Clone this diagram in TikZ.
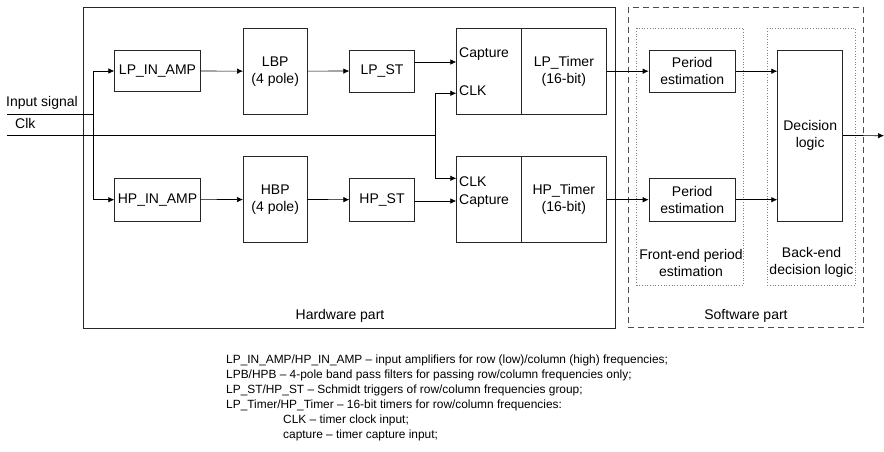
\documentclass[tikz,border=0pt]{standalone}
\usepackage{fontspec}
\setmainfont{Liberation Sans}
\usetikzlibrary{arrows.meta}
\begin{document}
\begin{tikzpicture}[x=1pt,y=-1pt,
  blk/.style={draw=black!85,line width=0.7pt,inner sep=0pt,align=center,font=\fontsize{14}{17}\selectfont},
  lbl/.style={inner sep=0pt,font=\fontsize{14}{17}\selectfont,align=center},
  note/.style={inner sep=0pt,anchor=west,font=\fontsize{11.9}{14}\selectfont},
  arr/.style={line width=0.7pt,-{Latex[length=6pt,width=5.5pt]}},
  ln/.style={line width=0.7pt}]
\useasboundingbox (0,0) rectangle (884,452);
% group frames
\draw[ln,black!85] (83,7) rectangle (615,328);
\draw[line width=0.9pt,black!70,dash pattern=on 6pt off 4pt] (628.3,7.3) rectangle (863.3,327.7);
\draw[line width=0.7pt,black!50,dotted] (636.7,28.3) rectangle (743.3,285);
\draw[line width=0.7pt,black!50,dotted] (767.3,28.3) rectangle (855,285);
\node[lbl] (hwl) at (340,316) {Hardware part};
\node[lbl] (swl) at (746,316) {Software part};
\node[lbl] (fel) at (691,262.5) {Front-end period\\estimation};
\node[lbl] (bel) at (811.5,262.5) {Back-end\\decision logic};
% blocks
\node[blk,minimum width=85.6pt,minimum height=41.7pt] (lpamp) at (157.5,71) {LP\_IN\_AMP};
\node[blk,minimum width=63.7pt,minimum height=85.7pt] (lbp) at (275.2,71.2) {LBP\\(4 pole)};
\node[blk,minimum width=64.6pt,minimum height=42pt] (lpst) at (382,71) {LP\_ST};
\node[blk,minimum width=64.3pt,minimum height=85.7pt] (lpcap) at (488.85,71.2) {};
\node[blk,minimum width=85.7pt,minimum height=85.7pt] (lptim) at (563.85,71.2) {LP\_Timer\\(16-bit)};
\node[lbl,anchor=west] (lpcapt) at (459,54) {Capture};
\node[lbl,anchor=west] (lpclkt) at (459,90.5) {CLK};
\node[blk,minimum width=63.7pt,minimum height=85.6pt] (hbp) at (275.2,199.5) {HBP\\(4 pole)};
\node[blk,minimum width=85.6pt,minimum height=42.7pt] (hpamp) at (157.5,199.7) {HP\_IN\_AMP};
\node[blk,minimum width=64.6pt,minimum height=42.7pt] (hpst) at (382,199.7) {HP\_ST};
\node[blk,minimum width=64.3pt,minimum height=85.6pt] (hpcap) at (488.85,199.5) {};
\node[blk,minimum width=85.7pt,minimum height=85.6pt] (hptim) at (563.85,199.5) {HP\_Timer\\(16-bit)};
\node[lbl,anchor=west] (hpclkt) at (459,182) {CLK};
\node[lbl,anchor=west] (hpcapt) at (459,201) {Capture};
\node[blk,minimum width=86.3pt,minimum height=42.3pt] (pe1) at (692.2,71.2) {Period\\estimation};
\node[blk,minimum width=86.3pt,minimum height=42.7pt] (pe2) at (692.2,199.7) {Period\\estimation};
\node[blk,minimum width=65pt,minimum height=171pt] (dec) at (810.2,135.5) {Decision\\logic};
% inputs
\node[lbl,anchor=west] (insig) at (6,102.5) {Input signal};
\node[lbl,anchor=west] (clkt) at (15,123.5) {Clk};
\coordinate (inL) at (7,114);
\coordinate (jin) at (93.3,114);
\coordinate (clkL) at (7,135.7);
\coordinate (jclk) at (435,135.7);
\coordinate (outR) at (884,135.7);
\draw[ln] (inL) -- (jin);
\draw[arr] (jin) |- (lpamp.west);
\draw[arr] (jin) |- (hpamp.west);
\draw[ln] (clkL) -- (jclk);
\draw[arr] (jclk) |- (lpcap.west |- 0,93.3);
\draw[arr] (jclk) |- (hpcap.west |- 0,178.3);
% chains
\draw[arr] (lpamp) -- (lbp);
\draw[arr] (lbp) -- (lpst);
\draw[arr] (lpst.east |- 0,62) -- (lpcap.west |- 0,62);
\draw[arr] (hpamp) -- (hbp);
\draw[arr] (hbp) -- (hpst);
\draw[arr] (hpst.east |- 0,201) -- (hpcap.west |- 0,201);
\draw[arr] (lptim.east) -- (pe1.west);
\draw[arr] (hptim.east |- pe2.west) -- (pe2.west);
\draw[arr] (pe1.east) -- (dec.west |- pe1.east);
\draw[arr] (pe2.east) -- (dec.west |- pe2.east);
\draw[arr] (dec.east) -- (outR);
% notes
\node[note] (n1) at (226,360) {LP\_IN\_AMP/HP\_IN\_AMP -- input amplifiers for row (low)/column (high) frequencies;};
\node[note] (n2) at (226,375.5) {LPB/HPB -- 4-pole band pass filters for passing row/column frequencies only;};
\node[note] (n3) at (226,390.5) {LP\_ST/HP\_ST -- Schmidt triggers of row/column frequencies group;};
\node[note] (n4) at (226,405) {LP\_Timer/HP\_Timer -- 16-bit timers for row/column frequencies:};
\node[note] (n5) at (283,420) {CLK -- timer clock input;};
\node[note] (n6) at (283,435) {capture -- timer capture input;};
\end{tikzpicture}
\end{document}
